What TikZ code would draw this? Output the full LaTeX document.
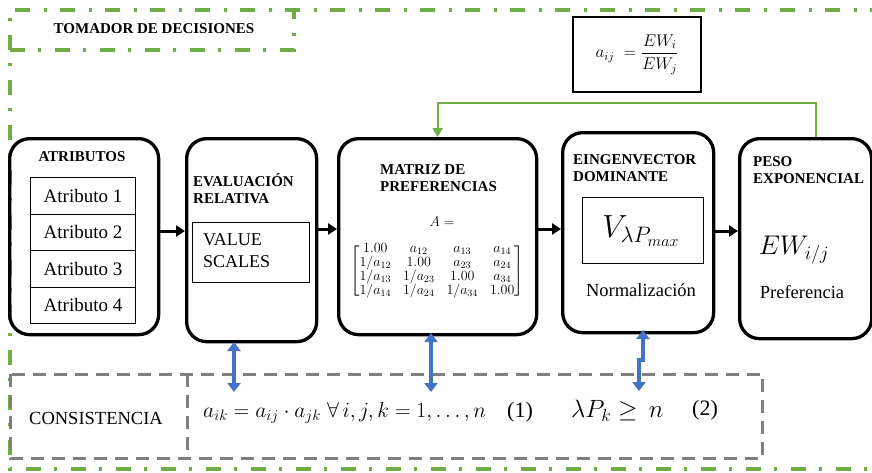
\RequirePackage{fix-cm}
\documentclass[tikz,border=0pt]{standalone}
\usepackage{fontspec}
\setmainfont{Liberation Serif}
\usepackage{amsmath,amssymb}
\usetikzlibrary{arrows.meta}
\definecolor{grn}{RGB}{112,173,71}
\definecolor{blu}{RGB}{68,114,196}
\definecolor{gry}{RGB}{127,127,127}
\begin{document}
\begin{tikzpicture}[x=1pt,y=-1pt,
  greendd/.style={draw=grn,line width=3.2pt,dash pattern=on 15pt off 13pt on 3pt off 14pt},
  graydash/.style={draw=gry,line width=3pt,dash pattern=on 13pt off 8pt},
  bigbox/.style={draw,line width=3.3pt,rounded corners=20pt,anchor=north west,inner sep=0pt},
  thinbox/.style={draw,line width=1.1pt,anchor=north west,inner sep=0pt},
  ttl/.style={font=\bfseries\fontsize{15}{17}\selectfont,align=left,anchor=west,inner sep=0pt},
  attrtxt/.style={font=\fontsize{19}{19}\selectfont},
  bigtxt/.style={font=\fontsize{18.5}{22}\selectfont,inner sep=0pt},
  blk/.style={line width=3pt,-{Triangle[length=9pt,width=11pt]}},
  bluearr/.style={draw=blu,line width=3.5pt,{Triangle[length=9pt,width=13pt]}-{Triangle[length=9pt,width=13pt]}},
  grline/.style={draw=grn,line width=2pt,-{Triangle[length=9pt,width=10pt]}}
]
\useasboundingbox (0,0) rectangle (872,472);
\clip (0,0) rectangle (872,472);
\fill[white] (0,0) rectangle (872,472);

% outer decision-maker frame
\draw[greendd] (885,10) -- (10,10) -- (10,469) -- (885,469);
\draw[greendd] (10,50) -- (294,50) -- (294,10);
\node[ttl,anchor=center] (tomador) at (154,29) {TOMADOR DE DECISIONES};

% consistency frame
\node[draw=none,anchor=north west,minimum width=752pt,minimum height=84pt,inner sep=0pt] (cons) at (10,374) {};
\draw[graydash] (cons.north west) rectangle (cons.south east);
\coordinate (divtop) at (187,374);
\coordinate (divbot) at (187,458);
\draw[graydash] (divtop) -- (divbot);
\node[bigtxt] (constxt) at (96,418) {CONSISTENCIA};
\node[inner sep=0pt,font=\fontsize{21.5}{21}\selectfont,anchor=west] (f1) at (203,413) {$a_{ik}=a_{ij}\cdot a_{jk}\;\forall\, i,j,k=1,\dots,n$};
\node[inner sep=0pt,font=\fontsize{22}{22}\selectfont,anchor=west] (n1) at (507,412) {(1)};
\node[inner sep=0pt,font=\fontsize{25}{25}\selectfont,anchor=west] (f2) at (571,411) {$\lambda P_{k}\geq\, n$};
\node[inner sep=0pt,font=\fontsize{22}{22}\selectfont,anchor=west] (n2) at (692,410) {(2)};

% formula box top
\node[draw,line width=1.3pt,minimum width=128pt,minimum height=75pt,font=\fontsize{17}{17}\selectfont] (fbox) at (637,54.5) {$a_{ij}\;=\dfrac{EW_i}{EW_j}$};

% boxes
\node[bigbox,minimum width=149pt,minimum height=196pt] (attr) at (8,137) {};
\node[bigbox,minimum width=130pt,minimum height=203pt] (eval) at (185,137) {};
\node[bigbox,minimum width=198pt,minimum height=196pt] (matr) at (337,137) {};
\node[bigbox,minimum width=151pt,minimum height=200pt] (eig) at (561,131) {};
\node[bigbox,minimum width=132pt,minimum height=200pt] (peso) at (738,137) {};

% attributes
\node[ttl,anchor=center] (attrttl) at (82,157) {ATRIBUTOS};
\node[thinbox,minimum width=105pt,minimum height=36.5pt] (a1) at (30,177) {};
\node[thinbox,minimum width=105pt,minimum height=36.5pt] (a2) at (30,213.5) {};
\node[thinbox,minimum width=105pt,minimum height=36.5pt] (a3) at (30,250) {};
\node[thinbox,minimum width=105pt,minimum height=36.5pt] (a4) at (30,286.5) {};
\node[attrtxt] at (a1.center) {Atributo 1};
\node[attrtxt] at (a2.center) {Atributo 2};
\node[attrtxt] at (a3.center) {Atributo 3};
\node[attrtxt] at (a4.center) {Atributo 4};

% evaluation
\node[ttl] (evalttl) at (193,189) {EVALUACIÓN\\RELATIVA};
\node[thinbox,minimum width=117pt,minimum height=60pt] (vs) at (192,222) {};
\node[font=\fontsize{18}{22}\selectfont,align=left,anchor=west,inner sep=0pt] (vstxt) at (203,251) {VALUE\\SCALES};

% matrix
\node[ttl] (matrttl) at (380,178.5) {MATRIZ DE\\PREFERENCIAS};
\node[inner sep=0pt,font=\fontsize{14}{14}\selectfont] (aeq) at (442,222) {$A=$};
\node[inner sep=0pt,font=\fontsize{14}{14}\selectfont] (mat) at (437,271) {$\setlength{\arraycolsep}{6pt}\renewcommand{\arraystretch}{0.8}\begin{bmatrix}
1.00 & a_{12} & a_{13} & a_{14}\\
1/a_{12} & 1.00 & a_{23} & a_{24}\\
1/a_{13} & 1/a_{23} & 1.00 & a_{34}\\
1/a_{14} & 1/a_{24} & 1/a_{34} & 1.00
\end{bmatrix}$};

% eigenvector
\node[ttl] (eigttl) at (573,168.5) {EINGENVECTOR\\DOMINANTE};
\node[thinbox,minimum width=121pt,minimum height=66pt] (vbox) at (582,197) {};
\node[inner sep=0pt,font=\fontsize{32}{32}\selectfont] (vtxt) at (641,231) {$V_{\lambda P_{max}}$};
\node[bigtxt] (norm) at (641,290) {Normalización};

% weight
\node[ttl] (pesottl) at (753,170) {PESO\\EXPONENCIAL};
\node[inner sep=0pt,font=\fontsize{27}{27}\selectfont] (ew) at (794,250) {$EW_{i/j}$};
\node[bigtxt] (pref) at (802,292) {Preferencia};

% black arrows
\coordinate (ya) at (0,231);
\coordinate (yb) at (0,229);
\draw[blk] (attr.east |- ya) -- (eval.west |- ya);
\draw[blk] (eval.east |- yb) -- (matr.west |- yb);
\draw[blk] (matr.east |- yb) -- (eig.west |- yb);
\draw[blk] (eig.east |- ya) -- (peso.west |- ya);

% green feedback
\draw[grline] ([xshift=10pt]peso.north) -- ++(0,-34) -| (matr.north);

% blue double arrows
\coordinate (b1t) at (234,342);
\coordinate (b1b) at (234,392);
\coordinate (b2t) at (431,333);
\coordinate (b2b) at (431,392);
\coordinate (b3t) at (643,330);
\coordinate (b3m) at (643,360);
\coordinate (b3n) at (639,360);
\coordinate (b3b) at (639,391);
\draw[bluearr] (b1t) -- (b1b);
\draw[bluearr] (b2t) -- (b2b);
\draw[bluearr] (b3t) -- (b3m) -- (b3n) -- (b3b);
\end{tikzpicture}
\end{document}
